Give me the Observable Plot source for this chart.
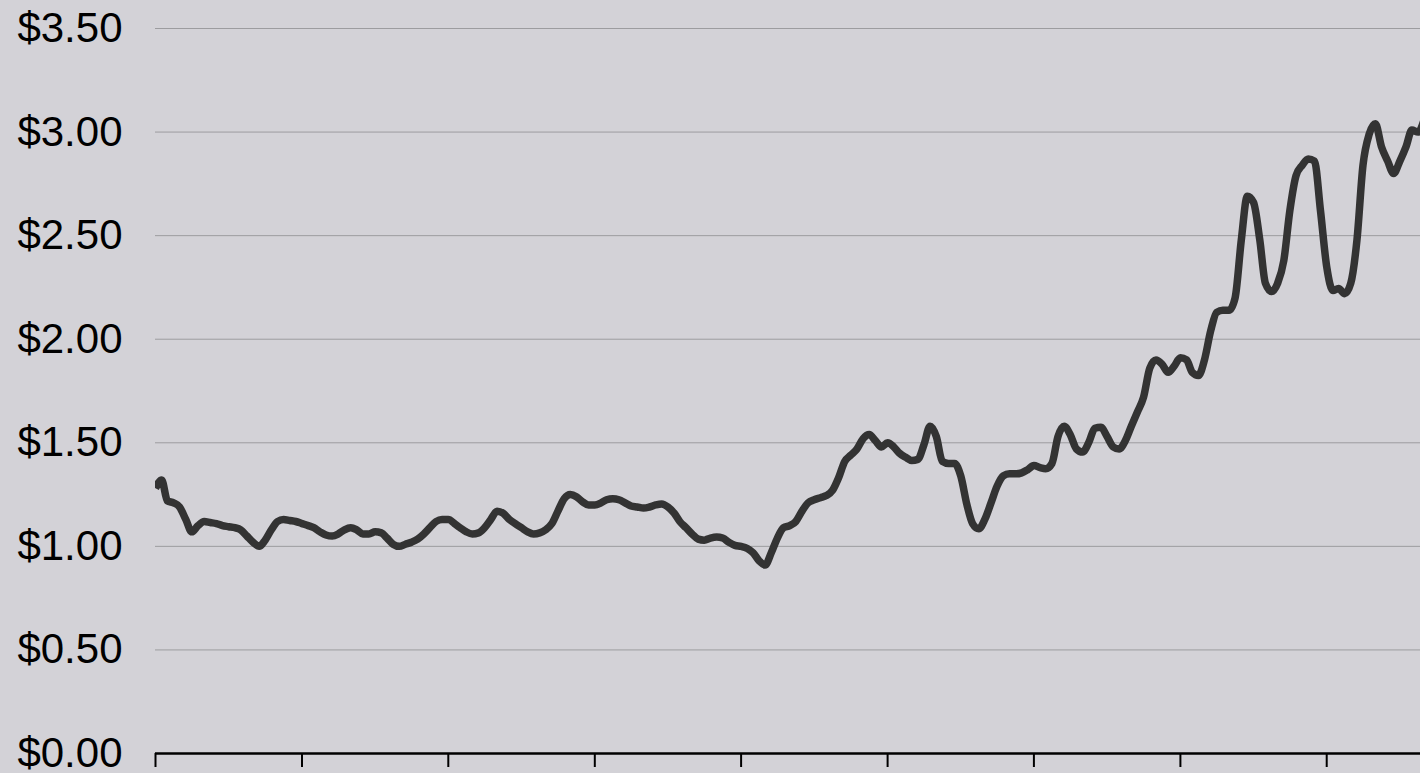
<!DOCTYPE html>
<html>
<head>
<meta charset="utf-8">
<script src="https://cdn.jsdelivr.net/npm/d3@7"></script>
<script src="https://cdn.jsdelivr.net/npm/@observablehq/plot@0.6"></script>
<style>
  html, body { margin: 0; padding: 0; background: #d3d2d7; }
  #chart { width: 1420px; height: 773px; overflow: hidden; }
</style>
</head>
<body>
<div id="chart"></div>
<script>
// Monthly average price, starting January 1991
const startMonth = "1991-01";
const prices1991 = [1.28, 1.32, 1.22, 1.21, 1.19, 1.13, 1.07, 1.10, 1.12, 1.115, 1.11, 1.10];
const prices1992 = [1.095, 1.09, 1.08, 1.05, 1.02, 1.00, 1.03, 1.08, 1.12, 1.13, 1.125, 1.12];
const prices1993 = [1.11, 1.10, 1.09, 1.07, 1.055, 1.05, 1.06, 1.08, 1.09, 1.08, 1.06, 1.06];
const prices1994 = [1.07, 1.065, 1.04, 1.01, 1.00, 1.01, 1.02, 1.035, 1.06, 1.09, 1.12, 1.13];
const prices1995 = [1.13, 1.11, 1.09, 1.07, 1.06, 1.065, 1.09, 1.13, 1.17, 1.16, 1.13, 1.11];
const prices1996 = [1.09, 1.07, 1.06, 1.065, 1.08, 1.11, 1.17, 1.23, 1.25, 1.24, 1.215, 1.20];
const prices1997 = [1.20, 1.21, 1.225, 1.23, 1.225, 1.21, 1.195, 1.19, 1.185, 1.19, 1.20, 1.205];
const prices1998 = [1.19, 1.16, 1.12, 1.09, 1.06, 1.035, 1.03, 1.04, 1.045, 1.04, 1.02, 1.005];
const prices1999 = [1.00, 0.99, 0.97, 0.93, 0.91, 0.97, 1.04, 1.09, 1.10, 1.12, 1.17, 1.21];
const prices2000 = [1.225, 1.235, 1.245, 1.27, 1.33, 1.41, 1.44, 1.47, 1.52, 1.54, 1.51, 1.48];
const prices2001 = [1.50, 1.48, 1.45, 1.43, 1.415, 1.42, 1.49, 1.58, 1.53, 1.41, 1.40, 1.40];
const prices2002 = [1.34, 1.20, 1.11, 1.085, 1.13, 1.21, 1.29, 1.34, 1.35, 1.35, 1.355, 1.37];
const prices2003 = [1.39, 1.38, 1.375, 1.40, 1.53, 1.58, 1.54, 1.47, 1.455, 1.50, 1.57, 1.575];
const prices2004 = [1.53, 1.48, 1.47, 1.51, 1.58, 1.65, 1.72, 1.86, 1.90, 1.88, 1.84, 1.87];
const prices2005 = [1.91, 1.90, 1.84, 1.825, 1.90, 2.04, 2.13, 2.14, 2.14, 2.20, 2.48, 2.69];
const prices2006 = [2.66, 2.48, 2.27, 2.23, 2.27, 2.38, 2.62, 2.79, 2.84, 2.87, 2.86, 2.62];
const prices2007 = [2.35, 2.235, 2.245, 2.22, 2.27, 2.48, 2.84, 2.99, 3.04, 2.93, 2.86, 2.80];
const prices2008 = [2.86, 2.93, 3.01, 3.00, 3.06];

const xDomainStart = "1991-01-01";
const xDomainEnd = "2008-04-13";
const xTickYears = [1991, 1993, 1995, 1997, 1999, 2001, 2003, 2005, 2007];
const yTicks = [0, 0.5, 1, 1.5, 2, 2.5, 3, 3.5];
const yTickLabels = ["$0.00", "$0.50", "$1.00", "$1.50", "$2.00", "$2.50", "$3.00", "$3.50"];

const allPrices = [].concat(prices1991, prices1992, prices1993, prices1994, prices1995,
  prices1996, prices1997, prices1998, prices1999, prices2000, prices2001, prices2002,
  prices2003, prices2004, prices2005, prices2006, prices2007, prices2008);
const start = d3.utcParse("%Y-%m")(startMonth);
const data = allPrices.map((v, i) => ({date: d3.utcMonth.offset(start, i), price: v}));
const xTicks = xTickYears.map(y => new Date(Date.UTC(y, 0, 1)));

const chart = Plot.plot({
  width: 1420,
  height: 773,
  marginLeft: 155,
  marginRight: 0,
  marginTop: 28,
  marginBottom: 20,
  style: {
    background: "#d3d2d7",
    fontFamily: "'Liberation Sans', Arial, Helvetica, sans-serif",
    fontSize: "42px",
    color: "#000",
    overflow: "hidden"
  },
  x: {type: "utc", domain: [new Date(xDomainStart), new Date(xDomainEnd)]},
  y: {domain: [0, 3.5]},
  marks: [
    Plot.gridY(yTicks, {stroke: "#9c9c9f", strokeOpacity: 1, strokeWidth: 1}),
    Plot.axisY(yTicks, {
      tickSize: 0,
      tickPadding: 33,
      tickFormat: (d) => yTickLabels[yTicks.indexOf(d)],
      fill: "#000",
      label: null
    }),
    Plot.line(data, {
      x: "date", y: "price",
      stroke: "#333333", strokeWidth: 7.5,
      curve: "monotone-x",
      strokeLinecap: "butt",
      clip: true
    }),
    Plot.axisX(xTicks, {
      tickSize: 14,
      strokeWidth: 2,
      stroke: "#000",
      tickFormat: () => "",
      label: null
    }),
    Plot.ruleY([0], {stroke: "#000", strokeWidth: 2.5})
  ]
});
document.getElementById("chart").appendChild(chart);
</script>
</body>
</html>
